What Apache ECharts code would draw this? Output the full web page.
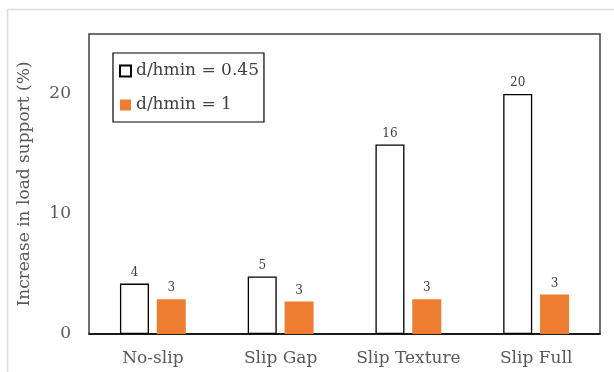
<!DOCTYPE html>
<html>
<head>
<meta charset="utf-8">
<script src="https://cdn.jsdelivr.net/npm/echarts@6/dist/echarts.min.js"></script>
<style>html,body{margin:0;padding:0;background:#fff}#c{width:614px;height:372px}</style>
</head>
<body>
<div id="c"></div>
<script>
const categories = ['No-slip', 'Slip Gap', 'Slip Texture', 'Slip Full'];
const seriesNames = ['d/hmin = 0.45', 'd/hmin = 1'];
const valuesA = [4.2, 4.8, 15.8, 20.0];
const valuesB = [2.9, 2.7, 2.9, 3.3];
const yTicks = [0, 10, 20];

const FONT = 'DejaVu Serif';
const chart = echarts.init(document.getElementById('c'));
const labelCfg = {
  show: true, position: 'top', distance: 5, color: '#404040',
  fontFamily: FONT, fontSize: 12,
  formatter: p => Math.round(p.value)
};
chart.setOption({
  animation: false,
  graphic: [{
    type: 'rect', shape: { x: 7.5, y: 9.5, width: 700, height: 500 },
    style: { fill: 'none', stroke: '#dcdcdc', lineWidth: 1.5 }, z: -10
  }],
  grid: { left: 89, right: 14, top: 34, bottom: 38, show: true, borderColor: '#404040', borderWidth: 1.5, backgroundColor: 'transparent' },
  legend: {
    orient: 'vertical', left: 113, top: 53, icon: 'rect',
    data: seriesNames,
    itemWidth: 11, itemHeight: 11, itemGap: 14, itemTextGap: 5,
    padding: [8, 5, 7, 6],
    borderColor: '#000', borderWidth: 1.2, backgroundColor: '#fff',
    textStyle: { fontFamily: FONT, fontSize: 17, color: '#404040', lineHeight: 20 }
  },
  xAxis: {
    type: 'category', data: categories,
    axisLine: { lineStyle: { color: '#000', width: 1.5 } },
    axisTick: { show: false },
    axisLabel: { interval: 0, color: '#595959', fontFamily: FONT, fontSize: 17, margin: 16 }
  },
  yAxis: {
    type: 'value', min: 0, max: 25, interval: 10,
    name: 'Increase in load support (%)', nameLocation: 'middle', nameGap: 56,
    nameTextStyle: { color: '#595959', fontFamily: FONT, fontSize: 17 },
    axisLine: { show: false }, axisTick: { show: false }, splitLine: { show: false },
    axisLabel: { color: '#595959', fontFamily: FONT, fontSize: 17, margin: 18,
      formatter: v => yTicks.includes(v) ? String(v) : '' }
  },
  series: [
    { name: seriesNames[0], type: 'bar', data: valuesA, barWidth: 29, barGap: '27%',
      itemStyle: { color: '#fff', borderColor: '#000', borderWidth: 1.3 }, label: labelCfg },
    { name: seriesNames[1], type: 'bar', data: valuesB, barWidth: 29,
      itemStyle: { color: '#ED7D31' }, label: labelCfg }
  ]
});
</script>
</body>
</html>
